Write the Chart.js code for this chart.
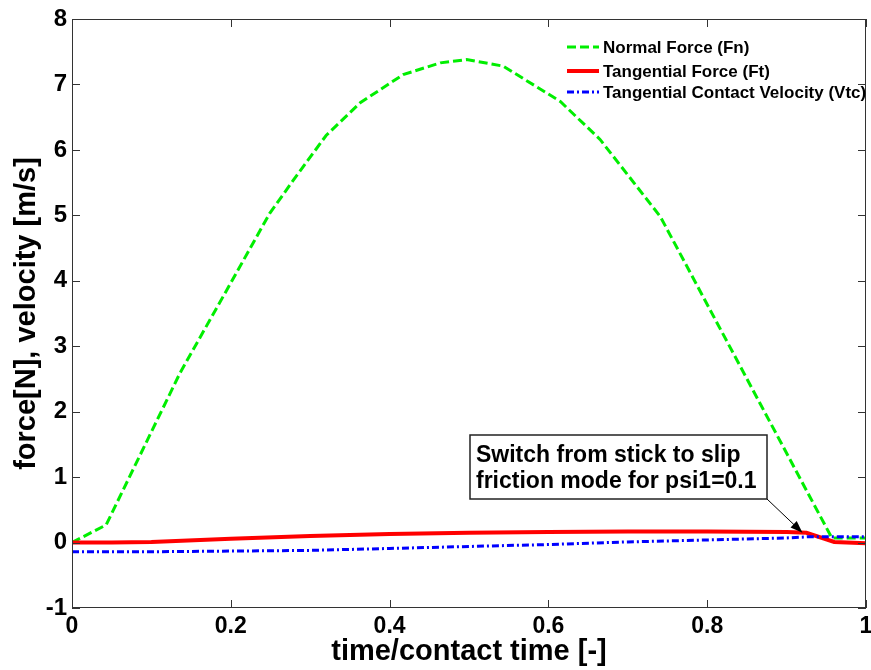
<!DOCTYPE html>
<html>
<head>
<meta charset="utf-8">
<script src="https://cdn.jsdelivr.net/npm/chart.js@4.4.0/dist/chart.umd.min.js"></script>
<style>
  html, body { margin: 0; padding: 0; background: #fff; }
  #wrap { width: 871px; height: 670px; }
</style>
</head>
<body>
<div id="wrap"><canvas id="c" width="871" height="670"></canvas></div>
<script>
// Normal force Fn over normalised contact time
const timeFn      = [0, 0.043, 0.136, 0.195, 0.249, 0.279, 0.32, 0.363, 0.417, 0.464, 0.497, 0.543, 0.615, 0.665, 0.741, 0.957, 1.0];
const normalForce = [0, 0.27, 2.59, 3.86, 5.03, 5.54, 6.22, 6.72, 7.15, 7.33, 7.38, 7.28, 6.74, 6.16, 4.98, 0.07, 0.07];

// Tangential force Ft
const timeFt          = [0, 0.05, 0.1, 0.2, 0.3, 0.4, 0.5, 0.6, 0.7, 0.8, 0.9, 0.925, 0.96, 1.0];
const tangentialForce = [0, 0, 0.01, 0.06, 0.1, 0.13, 0.15, 0.16, 0.17, 0.17, 0.16, 0.15, 0.01, -0.01];

// Tangential contact velocity Vtc
const timeVtc         = [0, 0.1, 0.2, 0.3, 0.4, 0.5, 0.6, 0.7, 0.8, 0.9, 0.93, 1.0];
const contactVelocity = [-0.14, -0.14, -0.13, -0.12, -0.09, -0.06, -0.03, 0.01, 0.04, 0.07, 0.09, 0.09];

const xTicks = [0, 0.2, 0.4, 0.6, 0.8, 1];
const yTicks = [-1, 0, 1, 2, 3, 4, 5, 6, 7, 8];

const seriesNames = ['Normal Force (Fn)', 'Tangential Force (Ft)', 'Tangential Contact Velocity (Vtc)'];
const noteLines = ['Switch from stick to slip', 'friction mode for psi1=0.1'];
const notePoint = [0.92, 0.15];

const FONT = '"Liberation Sans", Arial, sans-serif';
const styles = [
  { color: '#00ee00', width: 3, dash: [9, 4] },
  { color: '#ff0000', width: 4, dash: [] },
  { color: '#0000ff', width: 3, dash: [7, 3, 2, 3] }
];

function pairs(xs, ys) { return xs.map((v, i) => ({ x: v, y: ys[i] })); }

// Box frame, inward tick marks, legend and the note with its arrow
const decorations = {
  id: 'decorations',
  afterDatasetsDraw(chart) {
    const { ctx, chartArea: a, scales: { x, y } } = chart;
    ctx.save();
    ctx.strokeStyle = '#333';
    ctx.lineWidth = 1;
    ctx.strokeRect(a.left + 0.5, a.top + 0.5, a.right - a.left - 1, a.bottom - a.top - 1);
    ctx.beginPath();
    xTicks.forEach(v => {
      const px = Math.round(x.getPixelForValue(v)) + 0.5;
      ctx.moveTo(px, a.bottom); ctx.lineTo(px, a.bottom - 8);
      ctx.moveTo(px, a.top); ctx.lineTo(px, a.top + 8);
    });
    yTicks.forEach(v => {
      const py = Math.round(y.getPixelForValue(v)) + 0.5;
      ctx.moveTo(a.left, py); ctx.lineTo(a.left + 8, py);
      ctx.moveTo(a.right, py); ctx.lineTo(a.right - 8, py);
    });
    ctx.stroke();

    // legend
    const lx = 567, lw = 32, rows = [47, 71, 92];
    ctx.font = 'bold 17px ' + FONT;
    ctx.textBaseline = 'middle';
    ctx.textAlign = 'left';
    seriesNames.forEach((name, i) => {
      const s = styles[i];
      ctx.strokeStyle = s.color;
      ctx.lineWidth = s.width;
      ctx.setLineDash(s.dash);
      ctx.beginPath();
      ctx.moveTo(lx, rows[i]); ctx.lineTo(lx + lw, rows[i]);
      ctx.stroke();
      ctx.setLineDash([]);
      ctx.fillStyle = '#000';
      ctx.fillText(name, lx + lw + 4, rows[i] + 1);
    });

    // note box
    const bx = 470, by = 435, bw = 297, bh = 64;
    ctx.fillStyle = '#fff';
    ctx.fillRect(bx, by, bw, bh);
    ctx.strokeStyle = '#222';
    ctx.lineWidth = 1.5;
    ctx.strokeRect(bx, by, bw, bh);
    ctx.fillStyle = '#000';
    ctx.font = 'bold 23px ' + FONT;
    ctx.textBaseline = 'alphabetic';
    ctx.fillText(noteLines[0], bx + 6, by + 27);
    ctx.fillText(noteLines[1], bx + 6, by + 53);

    // arrow to the switch point
    const tx = x.getPixelForValue(notePoint[0]);
    const ty = y.getPixelForValue(notePoint[1]);
    const sx = bx + bw, sy = by + bh;
    const ang = Math.atan2(ty - sy, tx - sx);
    ctx.strokeStyle = '#000';
    ctx.lineWidth = 1;
    ctx.beginPath();
    ctx.moveTo(sx, sy);
    ctx.lineTo(tx - 6 * Math.cos(ang), ty - 6 * Math.sin(ang));
    ctx.stroke();
    ctx.beginPath();
    ctx.moveTo(tx, ty);
    ctx.lineTo(tx - 13 * Math.cos(ang - 0.35), ty - 13 * Math.sin(ang - 0.35));
    ctx.lineTo(tx - 13 * Math.cos(ang + 0.35), ty - 13 * Math.sin(ang + 0.35));
    ctx.closePath();
    ctx.fillStyle = '#000';
    ctx.fill();
    ctx.restore();
  }
};

const fmt = v => String(Math.round(v * 10) / 10);

new Chart(document.getElementById('c'), {
  type: 'line',
  data: {
    datasets: [
      { label: seriesNames[0], data: pairs(timeFn, normalForce), borderColor: styles[0].color,
        borderWidth: styles[0].width, borderDash: styles[0].dash, order: 3 },
      { label: seriesNames[1], data: pairs(timeFt, tangentialForce), borderColor: styles[1].color,
        borderWidth: styles[1].width, borderDash: styles[1].dash, order: 2 },
      { label: seriesNames[2], data: pairs(timeVtc, contactVelocity), borderColor: styles[2].color,
        borderWidth: styles[2].width, borderDash: styles[2].dash, order: 1 }
    ]
  },
  options: {
    responsive: false,
    animation: false,
    devicePixelRatio: 1,
    layout: { padding: { top: 19, right: 5, left: 0, bottom: 0 } },
    elements: { point: { radius: 0 }, line: { tension: 0, fill: false } },
    plugins: { legend: { display: false }, tooltip: { enabled: false } },
    scales: {
      x: {
        type: 'linear', min: 0, max: 1,
        afterBuildTicks: s => { s.ticks = xTicks.map(v => ({ value: v })); },
        afterFit: s => { s.height = 62; s.paddingLeft = 0; s.paddingRight = 0; },
        grid: { display: false, drawTicks: false },
        border: { display: false },
        ticks: { autoSkip: false, maxRotation: 0, padding: 5, color: '#000',
                 font: { family: FONT, size: 23, weight: 'bold' }, callback: fmt },
        title: { display: true, text: 'time/contact time [-]', color: '#000',
                 padding: { top: 0, bottom: 1 }, font: { family: FONT, size: 29, weight: 'bold' } }
      },
      y: {
        type: 'linear', min: -1, max: 8,
        afterBuildTicks: s => { s.ticks = yTicks.map(v => ({ value: v })); },
        afterFit: s => { s.width = 72; s.paddingTop = 0; s.paddingBottom = 0; },
        grid: { display: false, drawTicks: false },
        border: { display: false },
        ticks: { autoSkip: false, padding: 5, color: '#000',
                 font: { family: FONT, size: 24, weight: 'bold' }, callback: fmt },
        title: { display: true, text: 'force[N], velocity [m/s]', color: '#000',
                 padding: { top: 10, bottom: 0 }, font: { family: FONT, size: 29, weight: 'bold' } }
      }
    }
  },
  plugins: [decorations]
});
</script>
</body>
</html>
